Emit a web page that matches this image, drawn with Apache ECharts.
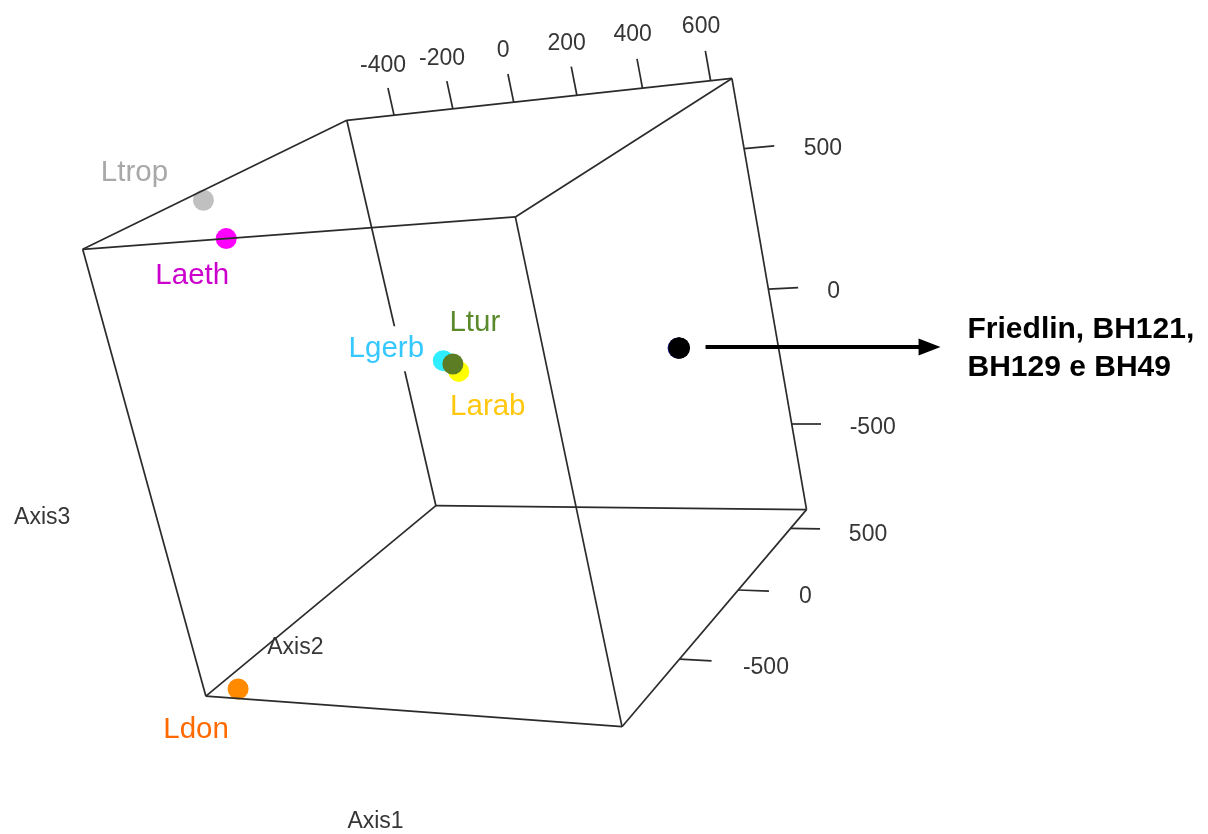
<!DOCTYPE html>
<html>
<head>
<meta charset="utf-8">
<style>
  html, body { margin: 0; padding: 0; background: #ffffff; }
  #chart { width: 1208px; height: 834px; }
</style>
<script src="https://cdn.jsdelivr.net/npm/echarts@6/dist/echarts.min.js"></script>
</head>
<body>
<div id="chart"></div>
<script>
// Ordination scores on the first three axes, one entry per taxon / strain
const taxa  = ['Ltrop', 'Laeth', 'Ldon', 'Lgerb', 'Larab', 'Ltur', 'BH121', 'BH129', 'BH49', 'Friedlin'];
const axis1 = [-566, -121, -494, -420, -362, -382, 657, 659, 660, 661];
const axis2 = [-288, -936, -873,  664,  640,  650, -96, -96, -96, -96];
const axis3 = [ 711,  742, -830, -222, -259, -232,  58,  58,  58,  58];
const labelled = ['Ltrop', 'Laeth', 'Ldon', 'Lgerb', 'Larab', 'Ltur'];

// Bounding box of the scores (one box per axis) and the tick values drawn on it
const axis1Range = [-566, 661];
const axis2Range = [-936, 664];
const axis3Range = [-830, 742];
const axis1Ticks = [-400, -200, 0, 200, 400, 600];
const axis2Ticks = [-500, 0, 500];
const axis3Ticks = [-500, 0, 500];
const axisTitles = ['Axis1', 'Axis2', 'Axis3'];
const noteLines  = ['Friedlin, BH121,', 'BH129 e BH49'];

// Marker and label colours per taxon
const pointColors = {
  Ltrop: '#c0c0c0', Laeth: '#ff00ff', Ldon: '#ff8a00', Lgerb: '#2eeeff',
  Larab: '#ffff00', Ltur: '#5c7d23', BH121: '#1c1c9a', BH129: '#000000',
  BH49: '#000000', Friedlin: '#000000'
};
const labelColors = {
  Ltrop: '#a8a8a8', Laeth: '#cc00cc', Ldon: '#ff6a00', Lgerb: '#35c8ff',
  Larab: '#ffc80e', Ltur: '#5b8a2c'
};
// label centre relative to its marker, in pixels
const labelOffsets = {
  Ltrop: [-69, -27], Laeth: [-34, 37], Ldon: [-42, 41],
  Lgerb: [-57, -12], Larab: [29, 35], Ltur: [22, -41]
};

// ---- perspective camera (box is normalised to [-1, 1] on every axis) ----
const view = {
  right: [0.852, 0.480, -0.208],   // screen-right direction in box units
  up:    [0.021, 0.362,  0.937],   // screen-up direction
  depth: [0.525, -0.803, 0.298],   // towards the viewer
  distance: 8.8,
  scale: 234,                      // px per box unit at the box centre
  origin: [468.3, 388]             // where the box centre lands on the canvas
};

function toBox(v, range) {
  return 2 * (v - range[0]) / (range[1] - range[0]) - 1;
}
function projectBox(p) {
  const dot = r => r[0] * p[0] + r[1] * p[1] + r[2] * p[2];
  const k = view.distance / (view.distance - dot(view.depth));
  return [k * dot(view.right), k * dot(view.up)];
}
function project(a1, a2, a3) {
  return projectBox([toBox(a1, axis1Range), toBox(a2, axis2Range), toBox(a3, axis3Range)]);
}

const chart = echarts.init(document.getElementById('chart'), null, { renderer: 'canvas' });
const W = chart.getWidth(), H = chart.getHeight();

// the twelve box edges
const edgeData = [];
for (let axis = 0; axis < 3; axis++) {
  for (const s of [-1, 1]) {
    for (const t of [-1, 1]) {
      const a = [0, 0, 0], b = [0, 0, 0];
      const others = [0, 1, 2].filter(i => i !== axis);
      a[axis] = -1; b[axis] = 1;
      a[others[0]] = b[others[0]] = s;
      a[others[1]] = b[others[1]] = t;
      edgeData.push({ coords: [projectBox(a), projectBox(b)] });
    }
  }
}

// tick marks and tick labels
const tickData = [];
const tickLabelsTop = [];
const tickLabelsSide = [];
axis1Ticks.forEach(v => {
  const u = toBox(v, axis1Range);
  tickData.push({ coords: [projectBox([u, 1, 1]), projectBox([u, 1, 1.13])] });
  tickLabelsTop.push({ value: projectBox([u, 1, 1.235]), name: String(v) });
});
axis3Ticks.forEach(v => {
  const w = toBox(v, axis3Range);
  tickData.push({ coords: [projectBox([1, 1, w]), projectBox([1.14, 1, w])] });
  tickLabelsSide.push({ value: projectBox([1.27, 1, w]), name: String(v) });
});
axis2Ticks.forEach(v => {
  const t = toBox(v, axis2Range);
  tickData.push({ coords: [projectBox([1, t, -1]), projectBox([1.14, t, -1])] });
  tickLabelsSide.push({ value: projectBox([1.27, t, -1]), name: String(v) });
});

const titleData = [
  { value: projectBox([0, -1.33, -1.31]), name: axisTitles[0] },
  { value: projectBox([-1.29, 0, -1.30]), name: axisTitles[1] },
  { value: projectBox([-1.25, -1.38, 0]), name: axisTitles[2] }
];

const pointData = taxa.map((name, i) => ({
  name,
  value: project(axis1[i], axis2[i], axis3[i]),
  itemStyle: { color: pointColors[name], opacity: 1 }
}));
const labelData = pointData
  .filter(d => labelled.includes(d.name))
  .map(d => ({
    name: d.name,
    value: d.value,
    label: { color: labelColors[d.name], offset: labelOffsets[d.name] }
  }));
const friedlin = pointData.find(d => d.name === 'Friedlin').value;

const textFont = '"Liberation Sans", Arial, sans-serif';
const tickColor = '#363636';

chart.setOption({
  animation: false,
  backgroundColor: '#ffffff',
  grid: { left: 0, right: 0, top: 0, bottom: 0 },
  xAxis: {
    type: 'value', show: false,
    min: -view.origin[0] / view.scale,
    max: (W - view.origin[0]) / view.scale
  },
  yAxis: {
    type: 'value', show: false,
    min: -(H - view.origin[1]) / view.scale,
    max: view.origin[1] / view.scale
  },
  series: [
    {
      type: 'scatter', z: 1, silent: true,
      symbol: 'circle', symbolSize: 21,
      itemStyle: { opacity: 1 },
      data: pointData
    },
    {
      type: 'lines', coordinateSystem: 'cartesian2d', z: 2, silent: true,
      lineStyle: { color: '#2b2b2b', width: 1.7, opacity: 1 },
      data: edgeData.concat(tickData)
    },
    {
      type: 'scatter', z: 3, silent: true, symbolSize: 0,
      itemStyle: { opacity: 1 },
      label: {
        show: true, position: 'inside', formatter: '{b}',
        fontFamily: textFont, fontSize: 29.5, lineHeight: 33,
        backgroundColor: '#ffffff', padding: [6, 3]
      },
      data: labelData
    },
    {
      type: 'scatter', z: 3, silent: true, symbolSize: 0,
      itemStyle: { opacity: 1 },
      label: {
        show: true, position: 'inside', formatter: '{b}',
        fontFamily: textFont, fontSize: 23, color: tickColor
      },
      data: tickLabelsTop.concat(titleData)
    },
    {
      type: 'scatter', z: 3, silent: true, symbolSize: 0,
      itemStyle: { opacity: 1 },
      label: {
        show: true, position: 'right', distance: 0, formatter: '{b}',
        fontFamily: textFont, fontSize: 23, color: tickColor, offset: [1, 5]
      },
      data: tickLabelsSide
    },
    {
      // arrow pointing from the overlapping strains to their note
      type: 'custom', coordinateSystem: 'cartesian2d', z: 4, silent: true,
      data: [friedlin],
      renderItem: function (params, api) {
        const c = api.coord([api.value(0), api.value(1)]);
        const y = c[1] - 1;
        const xs = c[0] + 26, xe = c[0] + 242, xt = c[0] + 261;
        return {
          type: 'group',
          children: [
            { type: 'line', shape: { x1: xs, y1: y, x2: xe, y2: y },
              style: { stroke: '#000000', lineWidth: 4 } },
            { type: 'polygon', shape: { points: [[xe - 3, y - 8.5], [xt, y], [xe - 3, y + 8.5]] },
              style: { fill: '#000000' } },
            { type: 'text', x: xt + 27, y: y + 2,
              style: {
                text: noteLines.join('\n'), fill: '#000000',
                fontFamily: textFont, fontSize: 30, fontWeight: 'bold',
                lineHeight: 38, align: 'left', verticalAlign: 'middle'
              } }
          ]
        };
      }
    }
  ]
});
</script>
</body>
</html>
